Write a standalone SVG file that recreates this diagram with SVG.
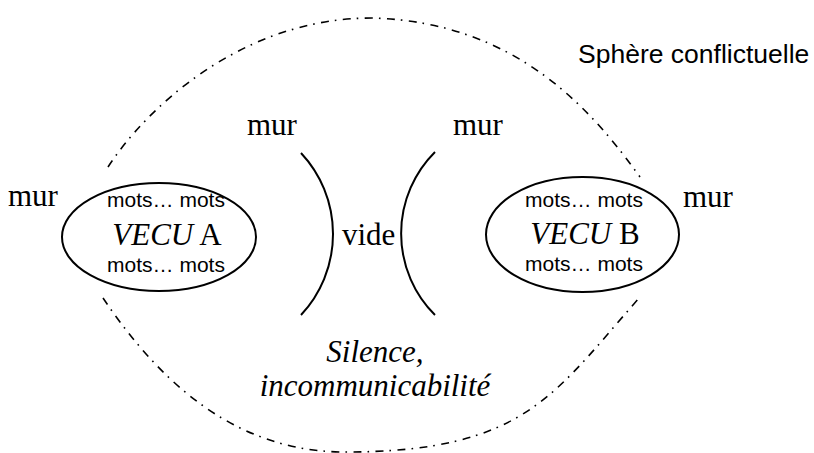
<svg xmlns="http://www.w3.org/2000/svg" width="814" height="453" viewBox="0 0 814 453">
<style>
.serif{font-family:"Liberation Serif","Times New Roman",serif;font-size:31px;fill:#000}
.sans{font-family:"Liberation Sans",Arial,sans-serif;fill:#000}
.words{font-size:21px}
.it{font-style:italic}
.line{fill:none;stroke:#000;stroke-width:2}
.sphere{fill:none;stroke:#000;stroke-width:1.6;stroke-dasharray:8 6 1.6 6.4}
</style>
<rect width="814" height="453" fill="#fff"/>
<g id="connectors">
<path class="sphere" d="M108,167 C145,110 240,18 372,18 C520,22 595,115 640,177"/>
<path class="sphere" d="M103,298 C155,375 230,452 345,452 C525,452 554,394 640,297"/>
<path id="wall-left" class="line" d="M301,153 A118.5,118.5 0 0 1 301,315"/>
<path id="wall-right" class="line" d="M435,152 A115,115 0 0 0 435,315"/>
</g>
<g id="sphere-label"><text class="sans" x="578" y="63" font-size="26.5">Sphère conflictuelle</text></g>
<g id="vecu-a">
<ellipse class="line" cx="159" cy="237" rx="97" ry="54"/>
<text class="sans words" x="166" y="207" text-anchor="middle">mots… mots</text>
<text class="serif" x="167" y="245" text-anchor="middle"><tspan class="it">VECU</tspan> A</text>
<text class="sans words" x="166" y="272" text-anchor="middle">mots… mots</text>
</g>
<g id="vecu-b">
<ellipse class="line" cx="582.5" cy="234.5" rx="96.5" ry="57.5"/>
<text class="sans words" x="584" y="207" text-anchor="middle">mots… mots</text>
<text class="serif" x="585" y="244" text-anchor="middle"><tspan class="it">VECU</tspan> B</text>
<text class="sans words" x="584" y="271" text-anchor="middle">mots… mots</text>
</g>
<g id="mur-left"><text class="serif" x="8" y="206">mur</text></g>
<g id="mur-right"><text class="serif" x="683" y="207">mur</text></g>
<g id="mur-top-left"><text class="serif" x="247" y="135">mur</text></g>
<g id="mur-top-right"><text class="serif" x="453" y="135">mur</text></g>
<g id="vide"><text class="serif" x="342" y="245">vide</text></g>
<g id="silence">
<text class="serif it" x="375" y="362" text-anchor="middle">Silence,</text>
<text class="serif it" x="375" y="396" text-anchor="middle">incommunicabilité</text>
</g>
</svg>
